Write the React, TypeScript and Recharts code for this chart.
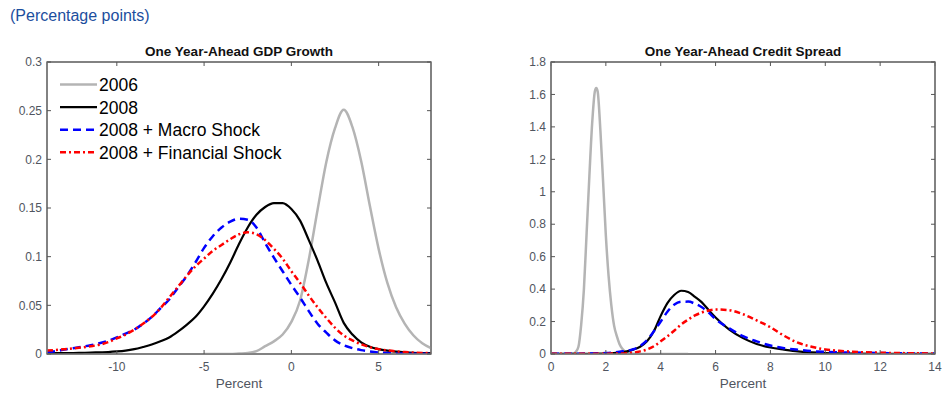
import React from 'react';
import { LineChart, Line, XAxis, YAxis, ReferenceArea } from 'recharts';

// GDP growth density, x in percent
const gdpX = [
  -14, -13.5, -13, -12.5, -12, -11.5, -11, -10.5, -10, -9.5, -9, -8.5, -8, -7.5, -7, -6.5,
  -6, -5.5, -5, -4.5, -4, -3.5, -3, -2.5, -2, -1.5, -1, -0.5, 0, 0.5, 1, 1.5, 2, 2.5, 3,
  3.5, 4, 4.5, 5, 5.5, 6, 6.5, 7, 7.5, 8,
];
const gdp2006 = [
  null, null, null, null, null, null, null, null, null, null, null, null, null, null, null, null,
  null, null, 0, 0, 0, 0, 0.0005, 0.001, 0.003, 0.008, 0.013, 0.02, 0.033, 0.055, 0.097, 0.148,
  0.197, 0.232, 0.251, 0.233, 0.198, 0.152, 0.108, 0.073, 0.048, 0.031, 0.019, 0.011, 0.006,
];
const gdp2008 = [
  0.001, 0.001, 0.001, 0.001, 0.0012, 0.0014, 0.0017, 0.002, 0.0026, 0.0035, 0.005, 0.0072,
  0.0097, 0.013, 0.017, 0.023, 0.03, 0.038, 0.049, 0.062, 0.077, 0.094, 0.113, 0.13, 0.143,
  0.151, 0.155, 0.155, 0.149, 0.137, 0.117, 0.096, 0.073, 0.053, 0.032, 0.02, 0.012, 0.0075,
  0.005, 0.0035, 0.0025, 0.0018, 0.0013, 0.001, 0.0008,
];
const gdpMacro = [
  0.002, 0.003, 0.0045, 0.006, 0.0075, 0.009, 0.011, 0.0135, 0.017, 0.021, 0.025, 0.031, 0.038,
  0.047, 0.056, 0.068, 0.08, 0.094, 0.109, 0.121, 0.13, 0.136, 0.139, 0.138, 0.13, 0.114, 0.099,
  0.085, 0.071, 0.058, 0.044, 0.031, 0.022, 0.014, 0.009, 0.006, 0.004, 0.0025, 0.0015, 0.001,
  0.0006, 0.0004, 0.0003, 0.0002, 0.0001,
];
const gdpFinancial = [
  0.0035, 0.0042, 0.005, 0.0058, 0.0068, 0.008, 0.0095, 0.0122, 0.016, 0.02, 0.025, 0.031, 0.038,
  0.047, 0.058, 0.069, 0.08, 0.09, 0.098, 0.106, 0.112, 0.118, 0.123, 0.125, 0.123, 0.117, 0.108,
  0.098, 0.085, 0.073, 0.06, 0.048, 0.037, 0.027, 0.019, 0.014, 0.01, 0.007, 0.005, 0.0037,
  0.0027, 0.002, 0.0015, 0.0011, 0.0008,
];

// Credit spread density, x in percent
const spreadX = [
  0, 0.5, 1, 1.5, 2, 2.5, 3, 3.25, 3.5, 3.75, 4, 4.25, 4.5, 4.75, 5, 5.25, 5.5, 5.75, 6, 6.5,
  7, 7.5, 8, 8.5, 9, 9.5, 10, 10.5, 11, 12, 13, 14,
];
const spread2008 = [
  0.001, 0.001, 0.001, 0.002, 0.003, 0.008, 0.027, 0.045, 0.078, 0.14, 0.235, 0.315, 0.365, 0.39,
  0.382, 0.352, 0.318, 0.27, 0.225, 0.15, 0.098, 0.062, 0.04, 0.027, 0.016, 0.01, 0.006, 0.004,
  0.003, 0.0015, 0.001, 0.0005,
];
const spreadMacro = [
  0.001, 0.001, 0.002, 0.003, 0.006, 0.014, 0.029, 0.05, 0.085, 0.14, 0.2, 0.262, 0.305, 0.322,
  0.323, 0.31, 0.288, 0.255, 0.215, 0.158, 0.11, 0.078, 0.052, 0.036, 0.026, 0.018, 0.013, 0.01,
  0.009, 0.006, 0.004, 0.003,
];
const spreadFinancial = [
  0.001, 0.001, 0.001, 0.001, 0.002, 0.003, 0.008, 0.016, 0.028, 0.048, 0.078, 0.11, 0.145, 0.182,
  0.212, 0.238, 0.256, 0.268, 0.275, 0.27, 0.245, 0.207, 0.165, 0.112, 0.07, 0.045, 0.028, 0.02,
  0.014, 0.008, 0.005, 0.003,
];
// 2006 spike needs a finer grid
const spread2006X = [
  0, 0.5, 0.8, 0.9, 1, 1.1, 1.2, 1.3, 1.4, 1.5, 1.6, 1.65, 1.7, 1.8, 1.9, 2, 2.1, 2.2, 2.3, 2.4,
  2.5, 2.6, 2.7, 2.8, 3, 3.5, 4, 5,
];
const spread2006 = [
  0, 0, 0.003, 0.012, 0.045, 0.18, 0.4, 0.75, 1.1, 1.42, 1.62, 1.64, 1.62, 1.38, 1.06, 0.73, 0.48,
  0.3, 0.175, 0.11, 0.06, 0.032, 0.016, 0.008, 0.002, 0, 0, 0,
];

const gdpXTicks = [-10, -5, 0, 5];
const gdpYTicks = [0, 0.05, 0.1, 0.15, 0.2, 0.25, 0.3];
const spreadXTicks = [0, 2, 4, 6, 8, 10, 12, 14];
const spreadYTicks = [0, 0.2, 0.4, 0.6, 0.8, 1, 1.2, 1.4, 1.6, 1.8];

const seriesNames = ['2006', '2008', '2008 + Macro Shock', '2008 + Financial Shock'];

const styles = [
  { key: 's2006', stroke: '#b4b4b4', width: 2.5, dash: undefined as string | undefined },
  { key: 's2008', stroke: '#000000', width: 2.2, dash: undefined as string | undefined },
  { key: 'macro', stroke: '#0000ff', width: 2.5, dash: '8 5' },
  { key: 'financial', stroke: '#ff0000', width: 2.5, dash: '6 3 2 3' },
];

const gdpData = gdpX.map((x, i) => ({
  x,
  s2006: gdp2006[i],
  s2008: gdp2008[i],
  macro: gdpMacro[i],
  financial: gdpFinancial[i],
}));

const spreadData = spreadX.map((x, i) => ({
  x,
  s2008: spread2008[i],
  macro: spreadMacro[i],
  financial: spreadFinancial[i],
}));

const spread2006Data = spread2006X.map((x, i) => ({ x, s2006: spread2006[i] }));

const AXIS = '#7a7a7a';
const FONT = 'Liberation Sans, Arial, sans-serif';
const tickStyle = { fill: '#505560', fontSize: 12, fontFamily: FONT };
const axisLine = { stroke: AXIS, strokeWidth: 1.5 };
const tickLine = { stroke: '#555' };

const Title = ({ text, center }: { text: string; center: number }) => (
  <div
    style={{
      position: 'absolute',
      left: center - 150,
      width: 300,
      top: 45,
      textAlign: 'center',
      fontFamily: FONT,
      fontWeight: 'bold',
      fontSize: 13.5,
      lineHeight: '14px',
      color: '#111',
    }}
  >
    {text}
  </div>
);

// bottom/left axes with labels, top/right mirrors with ticks only, plus the box (MATLAB style)
const Frame = ({ domainX, domainY, ticksX, ticksY }: any) => [
  <XAxis
    key="xb"
    dataKey="x"
    type="number"
    domain={domainX}
    ticks={ticksX}
    allowDataOverflow
    height={36}
    axisLine={axisLine}
    tickLine={tickLine}
    tick={tickStyle}
    tickSize={-4}
    tickMargin={12}
    label={{ value: 'Percent', position: 'insideBottom', offset: 2, fill: '#505560', fontSize: 13.5, fontFamily: FONT }}
  />,
  <XAxis
    key="xt"
    xAxisId="top"
    dataKey="x"
    orientation="top"
    type="number"
    domain={domainX}
    ticks={ticksX}
    allowDataOverflow
    height={1}
    axisLine={axisLine}
    tickLine={tickLine}
    tickSize={-4}
    tickFormatter={() => ''}
  />,
  <YAxis
    key="yl"
    type="number"
    domain={domainY}
    ticks={ticksY}
    allowDataOverflow
    width={40}
    axisLine={axisLine}
    tickLine={tickLine}
    tick={tickStyle}
    tickSize={-4}
    tickMargin={9}
  />,
  <YAxis
    key="yr"
    yAxisId="right"
    orientation="right"
    type="number"
    domain={domainY}
    ticks={ticksY}
    allowDataOverflow
    width={1}
    axisLine={axisLine}
    tickLine={tickLine}
    tickSize={-4}
    tickFormatter={() => ''}
  />,
  <ReferenceArea
    key="box"
    x1={domainX[0]}
    x2={domainX[1]}
    y1={domainY[0]}
    y2={domainY[1]}
    fill="none"
    fillOpacity={0}
    stroke={AXIS}
    strokeWidth={1.5}
    ifOverflow="visible"
  />,
];

const LegendBox = () => (
  <svg width={300} height={100} style={{ position: 'absolute', left: 0, top: 70 }}>
    {seriesNames.map((name, i) => {
      const y = 14.5 + i * 22.6;
      const s = styles[i];
      return (
        <g key={name}>
          <line x1={60} x2={97} y1={y} y2={y} stroke={s.stroke} strokeWidth={s.width} strokeDasharray={s.dash} />
          <text x={99} y={y + 6.5} fontSize={17.5} fontFamily={FONT} fill="#000">
            {name}
          </text>
        </g>
      );
    })}
  </svg>
);

export default function App() {
  return (
    <div
      style={{
        position: 'absolute',
        left: 0,
        top: 0,
        width: 946,
        height: 394,
        background: '#fff',
        overflow: 'hidden',
      }}
    >
      <div
        style={{
          position: 'absolute',
          left: 10,
          top: 7,
          fontFamily: FONT,
          fontSize: 16,
          color: '#1c4e9e',
        }}
      >
        (Percentage points)
      </div>

      <div style={{ position: 'absolute', left: 0, top: 0, width: 470, height: 394 }}>
        <LineChart width={470} height={394} data={gdpData} margin={{ top: 61, right: 38, bottom: 4, left: 7 }}>
          {Frame({ domainX: [-14, 8], domainY: [0, 0.3], ticksX: gdpXTicks, ticksY: gdpYTicks })}
          {styles.map((s, i) => (
            <Line
              key={s.key}
              name={seriesNames[i]}
              dataKey={s.key}
              type="monotone"
              stroke={s.stroke}
              strokeWidth={s.width}
              strokeDasharray={s.dash}
              dot={false}
              activeDot={false}
              isAnimationActive={false}
            />
          ))}
        </LineChart>
        <LegendBox />
      </div>
      <Title text="One Year-Ahead GDP Growth" center={239} />

      <div style={{ position: 'absolute', left: 470, top: 0, width: 476, height: 394 }}>
        <LineChart width={476} height={394} data={spreadData} margin={{ top: 61, right: 10, bottom: 4, left: 41 }}>
          {Frame({ domainX: [0, 14], domainY: [0, 1.8], ticksX: spreadXTicks, ticksY: spreadYTicks })}
          <Line
            name={seriesNames[0]}
            data={spread2006Data}
            dataKey="s2006"
            type="monotone"
            stroke={styles[0].stroke}
            strokeWidth={styles[0].width}
            dot={false}
            activeDot={false}
            isAnimationActive={false}
          />
          {styles.slice(1).map((s, i) => (
            <Line
              key={s.key}
              name={seriesNames[i + 1]}
              dataKey={s.key}
              type="monotone"
              stroke={s.stroke}
              strokeWidth={s.width}
              strokeDasharray={s.dash}
              dot={false}
              activeDot={false}
              isAnimationActive={false}
            />
          ))}
        </LineChart>
      </div>
      <Title text="One Year-Ahead Credit Spread" center={743} />
    </div>
  );
}
